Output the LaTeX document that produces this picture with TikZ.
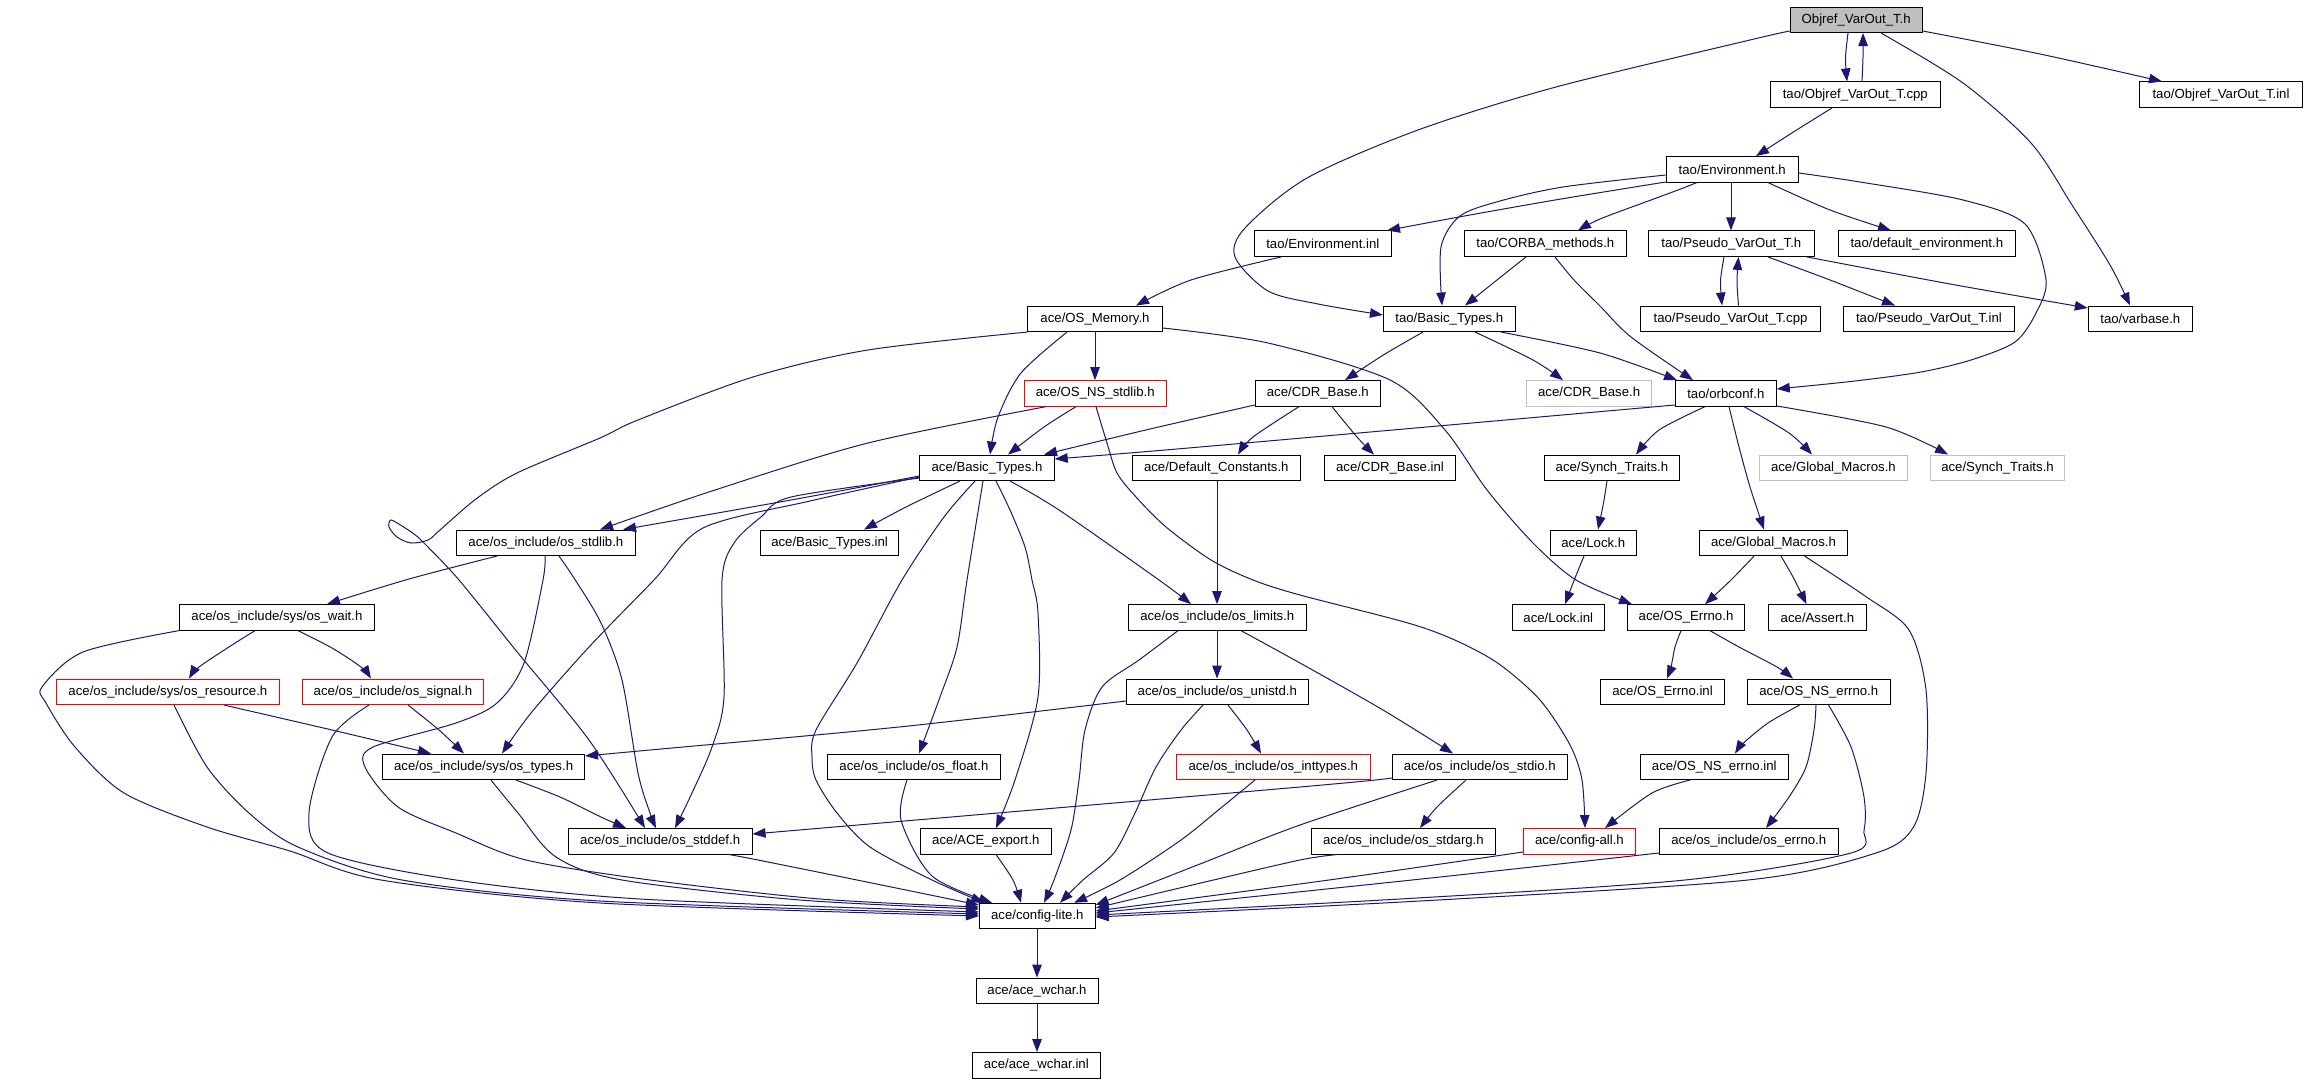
\documentclass[tikz,border=0pt]{standalone}
\usepackage{fontspec}
\setmainfont{Liberation Sans}
\usetikzlibrary{arrows.meta}
\definecolor{edgecol}{HTML}{191970}
\definecolor{grayc}{HTML}{BFBFBF}
\begin{document}
\begin{tikzpicture}[x=1pt,y=-1pt,
  nbox/.style={draw=black, fill=white, line width=1pt, minimum height=25.5pt, inner sep=0pt, font=\fontsize{13.2pt}{15pt}\selectfont},
  redbox/.style={nbox, draw=red},
  graybox/.style={nbox, draw=grayc},
  mainbox/.style={nbox, fill=grayc},
  conn/.style={draw=edgecol, line width=1pt, -{Triangle[length=13pt,width=9.5pt]}}
]
\fill[white] (0,0) rectangle (2307,1083);
\useasboundingbox (0,0) rectangle (2307,1083);

\node[mainbox, minimum width=132pt] (O) at (1856.2,19.8) {Objref\_VarOut\_T.h};
\node[nbox, minimum width=170pt] (ocpp) at (1855.3,94.7) {tao/Objref\_VarOut\_T.cpp};
\node[nbox, minimum width=163pt] (oinl) at (2221,94.7) {tao/Objref\_VarOut\_T.inl};
\node[nbox, minimum width=132pt] (env) at (1732.2,169.3) {tao/Environment.h};
\node[nbox, minimum width=136.6pt] (envinl) at (1322.8,243.7) {tao/Environment.inl};
\node[nbox, minimum width=162.2pt] (corba) at (1545.3,243.7) {tao/CORBA\_methods.h};
\node[nbox, minimum width=166.1pt] (pvh) at (1731.3,243.7) {tao/Pseudo\_VarOut\_T.h};
\node[nbox, minimum width=176.8pt] (defenv) at (1926.8,243.7) {tao/default\_environment.h};
\node[nbox, minimum width=134.3pt] (osmem) at (1095,318.8) {ace/OS\_Memory.h};
\node[nbox, minimum width=131.7pt] (tbt) at (1449.3,318.8) {tao/Basic\_Types.h};
\node[nbox, minimum width=179.8pt] (pvcpp) at (1730.5,318.8) {tao/Pseudo\_VarOut\_T.cpp};
\node[nbox, minimum width=171pt] (pvinl) at (1928.9,318.8) {tao/Pseudo\_VarOut\_T.inl};
\node[nbox, minimum width=104pt] (varbase) at (2140.3,318.8) {tao/varbase.h};
\node[redbox, minimum width=142.3pt] (nsstdlib) at (1095.2,393.4) {ace/OS\_NS\_stdlib.h};
\node[nbox, minimum width=125.2pt] (cdr) at (1317.8,393.4) {ace/CDR\_Base.h};
\node[graybox, minimum width=124.4pt] (cdrg) at (1589.1,393.4) {ace/CDR\_Base.h};
\node[nbox, minimum width=100.9pt] (orbconf) at (1725.8,393.4) {tao/orbconf.h};
\node[nbox, minimum width=134.3pt] (abt) at (987,467.8) {ace/Basic\_Types.h};
\node[nbox, minimum width=168.1pt] (defc) at (1216.3,467.8) {ace/Default\_Constants.h};
\node[nbox, minimum width=130.9pt] (cdrinl) at (1390,467.8) {ace/CDR\_Base.inl};
\node[nbox, minimum width=134.7pt] (synch) at (1611.9,467.8) {ace/Synch\_Traits.h};
\node[graybox, minimum width=148.3pt] (gmg) at (1833.4,467.8) {ace/Global\_Macros.h};
\node[graybox, minimum width=134.4pt] (synchg) at (1997.5,467.8) {ace/Synch\_Traits.h};
\node[nbox, minimum width=178.7pt] (stdlib) at (545.9,542.8) {ace/os\_include/os\_stdlib.h};
\node[nbox, minimum width=138.6pt] (abtinl) at (829.6,542.8) {ace/Basic\_Types.inl};
\node[nbox, minimum width=86pt] (lock) at (1593.3,542.8) {ace/Lock.h};
\node[nbox, minimum width=148pt] (gm) at (1773.5,542.8) {ace/Global\_Macros.h};
\node[nbox, minimum width=194.8pt] (wait) at (276.9,617.4) {ace/os\_include/sys/os\_wait.h};
\node[nbox, minimum width=177.8pt] (limits) at (1217.3,617.4) {ace/os\_include/os\_limits.h};
\node[nbox, minimum width=92.1pt] (lockinl) at (1558.3,617.4) {ace/Lock.inl};
\node[nbox, minimum width=116.9pt] (errno) at (1686,617.4) {ace/OS\_Errno.h};
\node[nbox, minimum width=98pt] (assert) at (1817.4,617.4) {ace/Assert.h};
\node[redbox, minimum width=223pt] (resource) at (167.9,691.8) {ace/os\_include/sys/os\_resource.h};
\node[redbox, minimum width=180.8pt] (signal) at (393,691.8) {ace/os\_include/os\_signal.h};
\node[nbox, minimum width=182pt] (unistd) at (1217.3,691.8) {ace/os\_include/os\_unistd.h};
\node[nbox, minimum width=124pt] (errnoinl) at (1662.5,691.8) {ace/OS\_Errno.inl};
\node[nbox, minimum width=143pt] (nserrno) at (1818.8,691.8) {ace/OS\_NS\_errno.h};
\node[nbox, minimum width=201.9pt] (types) at (483.6,766.8) {ace/os\_include/sys/os\_types.h};
\node[nbox, minimum width=172.9pt] (float) at (913.9,766.8) {ace/os\_include/os\_float.h};
\node[redbox, minimum width=193.6pt] (inttypes) at (1273.3,766.8) {ace/os\_include/os\_inttypes.h};
\node[nbox, minimum width=174.6pt] (stdio) at (1479.7,766.8) {ace/os\_include/os\_stdio.h};
\node[nbox, minimum width=148pt] (nserrnoinl) at (1714.3,766.8) {ace/OS\_NS\_errno.inl};
\node[nbox, minimum width=183.7pt] (stddef) at (660.2,841.3) {ace/os\_include/os\_stddef.h};
\node[nbox, minimum width=131pt] (export) at (985.8,841.3) {ace/ACE\_export.h};
\node[nbox, minimum width=183.6pt] (stdarg) at (1403.4,841.3) {ace/os\_include/os\_stdarg.h};
\node[redbox, minimum width=112pt] (cfgall) at (1579.4,841.3) {ace/config-all.h};
\node[nbox, minimum width=178.7pt] (oserrno) at (1748.8,841.3) {ace/os\_include/os\_errno.h};
\node[nbox, minimum width=115.7pt] (cfglite) at (1037.3,916) {ace/config-lite.h};
\node[nbox, minimum width=122pt] (wchar) at (1037,990.8) {ace/ace\_wchar.h};
\node[nbox, minimum width=127.7pt] (wcharinl) at (1036.3,1065.3) {ace/ace\_wchar.inl};

% top
\draw[conn] plot[smooth] coordinates {(O.south -| 1848,0) (1845.5,58) (ocpp.north -| 1847,0)};
\draw[conn] plot[smooth] coordinates {(ocpp.north -| 1862,0) (1863,57) (O.south -| 1863,0)};
\draw[conn] plot[smooth] coordinates {(O.east |- 0,31) (2040,54) (oinl.north -| 2162,0)};
\draw[conn] plot[smooth] coordinates {(O.west |- 0,31) (1750,40) (1556,87) (1418,130) (1307,178) (1245,228) (1235,257) (1268,291) (1318,304) (tbt.west |- 0,315)};
\draw[conn] plot[smooth] coordinates {(O.south -| 1881,0) (1963,83) (2031,143) (2072,205) (2110,265) (varbase.north -| 2130,0)};
\draw[conn] plot[smooth] coordinates {(ocpp.south -| 1832,0) (1795,131) (env.north -| 1756,0)};
% env
\draw[conn] plot[smooth] coordinates {(env.west |- 0,182) (1561,199) (1470,215) (envinl.north -| 1387,0)};
\draw[conn] plot[smooth] coordinates {(env.west |- 0,175) (1563,187) (1500,201) (1460,216) (1441,247) (tbt.north -| 1442,0)};
\draw[conn] plot[smooth] coordinates {(env.south -| 1697,0) (1678,190) (1651,200) (1600,219) (corba.north -| 1578,0)};
\draw[conn] (env.south -| 1731,0) -- (pvh.north -| 1731,0);
\draw[conn] plot[smooth] coordinates {(env.south -| 1768,0) (1830,210) (defenv.north -| 1891,0)};
\draw[conn] plot[smooth] coordinates {(env.east |- 0,173) (1860,182) (1963,200) (2025,224) (2046,280) (2036,313) (2015,342) (1971,360) (1921,372) (1855,381) (orbconf.east |- 0,389)};
% pvh
\draw[conn] plot[smooth] coordinates {(pvh.south -| 1724,0) (1720.5,281) (pvcpp.north -| 1722,0)};
\draw[conn] plot[smooth] coordinates {(pvcpp.north -| 1738.5,0) (1737,281) (pvh.south -| 1738.5,0)};
\draw[conn] plot[smooth] coordinates {(pvh.south -| 1768,0) (1830,280) (pvinl.north -| 1895,0)};
\draw[conn] plot[smooth] coordinates {(pvh.south -| 1807,0) (1950,284) (varbase.west |- 0,308)};
% corba
\draw[conn] plot[smooth] coordinates {(corba.south -| 1526,0) (1497,280) (tbt.north -| 1465,0)};
\draw[conn] plot[smooth] coordinates {(corba.south -| 1555,0) (1574,280) (1600,306) (1631,337) (orbconf.north -| 1693,0)};
% tbt
\draw[conn] plot[smooth] coordinates {(tbt.south -| 1501,0) (1600,353) (orbconf.north -| 1677,0)};
\draw[conn] plot[smooth] coordinates {(tbt.south -| 1423,0) (1385,354) (cdr.north -| 1345,0)};
\draw[conn] plot[smooth] coordinates {(tbt.south -| 1475,0) (1533,360) (cdrg.north -| 1563,0)};
% envinl
\draw[conn] plot[smooth] coordinates {(envinl.south -| 1281,0) (1191,280) (osmem.north -| 1136,0)};
% osmem
\draw[conn] (osmem.south -| 1095,0) -- (nsstdlib.north -| 1095,0);
\draw[conn] plot[smooth] coordinates {(osmem.south -| 1067,0) (1021,373) (998,417) (abt.north -| 990,0)};
\draw[conn] plot[smooth] coordinates {(osmem.east |- 0,328) (1268,343) (1390,380) (1445,430) (1487,490) (1533,543) (1576,580) (errno.north -| 1632,0)};
\draw[conn] plot[smooth] coordinates {(osmem.south west) (868,350) (753,377) (638,420) (600,438) (517,473) (476,499) (440,530) (428,540) (411,543) (397,537) (389,527) (391,520) (402,526) (414,534) (424,543) (459,580) (518,653) (589,740) (stddef.north -| 645,0)};
% nsstdlib
\draw[conn] plot[smooth] coordinates {(nsstdlib.south -| 1076,0) (1044,427) (abt.north -| 1008,0)};
\draw[conn] plot[smooth] coordinates {(nsstdlib.south -| 1046,0) (868,443) (715,490) (stdlib.north -| 600,0)};
\draw[conn] plot[smooth] coordinates {(nsstdlib.south -| 1096,0) (1107,443) (1117,473) (1136,497) (1166,527) (1211,560) (1253,580) (1300,595) (1408,623) (1457,641) (1499,664) (1540,700) (1570,745) (1582,780) (cfgall.north -| 1585,0)};
% orbconf
\draw[conn] plot[smooth] coordinates {(orbconf.west |- 0,405) (1200,447) (abt.east |- 0,459)};
\draw[conn] plot[smooth] coordinates {(orbconf.south -| 1705,0) (1659,430) (synch.north -| 1636,0)};
\draw[conn] plot[smooth] coordinates {(orbconf.south -| 1744,0) (1789,433) (gmg.north -| 1812,0)};
\draw[conn] plot[smooth] coordinates {(orbconf.east |- 0,406) (1886,427) (synchg.north -| 1948,0)};
\draw[conn] plot[smooth] coordinates {(orbconf.south -| 1729,0) (1739,447) (1750,487) (gm.north -| 1764,0)};
% cdr
\draw[conn] plot[smooth] coordinates {(cdr.west |- 0,405) (1150,429) (abt.north -| 1044,0)};
\draw[conn] plot[smooth] coordinates {(cdr.south -| 1299,0) (1253,437) (defc.north -| 1238,0)};
\draw[conn] plot[smooth] coordinates {(cdr.south -| 1332,0) (1357,437) (cdrinl.north -| 1374,0)};
\draw[conn] (defc.south -| 1217,0) -- (limits.north -| 1217,0);
% abt
\draw[conn] plot[smooth] coordinates {(abt.west |- 0,476) (791,500) (stdlib.north -| 623,0)};
\draw[conn] plot[smooth] coordinates {(abt.south -| 960,0) (906,507) (abtinl.north -| 864,0)};
\draw[conn] plot[smooth] coordinates {(abt.west |- 0,477) (810,501) (703,528) (654,580) (589,647) (531,713) (types.north -| 502,0)};
\draw[conn] plot[smooth] coordinates {(abt.west |- 0,478) (791,497) (761,517) (734,543) (722,580) (724,697) (712,747) (692,793) (stddef.north -| 675,0)};
\draw[conn] plot[smooth] coordinates {(abt.south -| 975,0) (944,517) (902,580) (857,663) (816,730) (812,757) (816,780) (837,813) (870,847) (932,880) (cfglite.north -| 984,0)};
\draw[conn] plot[smooth] coordinates {(abt.south -| 983,0) (967,580) (957,647) (940,697) (float.north -| 919,0)};
\draw[conn] plot[smooth] coordinates {(abt.south -| 996,0) (1010,510) (1025,547) (1032,580) (1038,613) (1038,697) (1015,780) (export.north -| 996,0)};
\draw[conn] plot[smooth] coordinates {(abt.south -| 1010,0) (1059,510) (1159,580) (limits.north -| 1191,0)};
% stdlib
\draw[conn] plot[smooth] coordinates {(stdlib.south -| 497,0) (409,579) (wait.north -| 327,0)};
\draw[conn] plot[smooth] coordinates {(stdlib.south -| 559,0) (574,578) (601,623) (622,680) (638,773) (650,813) (stddef.north -| 656,0)};
\draw[conn] plot[smooth] coordinates {(stdlib.south -| 545,0) (543,580) (524,663) (497,703) (456,723) (373,747) (365,767) (398,807) (456,833) (526,860) (650,880) (820,899) (cfglite.west |- 0,907)};
% wait
\draw[conn] plot[smooth] coordinates {(wait.south -| 255,0) (232,645) (199,667) (resource.north -| 189,0)};
\draw[conn] plot[smooth] coordinates {(wait.south -| 298,0) (332,648) (361,667) (signal.north -| 371,0)};
\draw[conn] plot[smooth] coordinates {(wait.south west) (83,652) (42,687) (46,703) (75,747) (124,793) (207,827) (290,851) (381,880) (600,903) (cfglite.west |- 0,916)};
% resource
\draw[conn] plot[smooth] coordinates {(resource.south -| 224,0) (332,730) (types.north -| 431,0)};
\draw[conn] plot[smooth] coordinates {(resource.south -| 174,0) (207,767) (249,813) (298,847) (402,880) (600,901) (cfglite.west |- 0,914)};
% signal
\draw[conn] plot[smooth] coordinates {(signal.south -| 408,0) (439,730) (types.north -| 464,0)};
\draw[conn] plot[smooth] coordinates {(signal.south -| 369,0) (332,737) (309,813) (328,853) (456,880) (640,899) (cfglite.west |- 0,912)};
% types
\draw[conn] plot[smooth] coordinates {(types.south -| 516,0) (560,797) (601,817) (stddef.north -| 626,0)};
\draw[conn] plot[smooth] coordinates {(types.south -| 491,0) (518,813) (556,857) (622,880) (800,900) (cfglite.west |- 0,909)};
% stddef
\draw[conn] plot[smooth] coordinates {(stddef.south -| 729,0) (758,860) (857,880) (cfglite.west |- 0,905)};
% limits
\draw[conn] (limits.south -| 1217,0) -- (unistd.north -| 1217,0);
\draw[conn] plot[smooth] coordinates {(limits.south -| 1241,0) (1300,663) (1383,710) (stdio.north -| 1453,0)};
\draw[conn] plot[smooth] coordinates {(limits.south -| 1178,0) (1139,660) (1102,687) (1085,730) (1079,780) (1071,830) (1054,880) (cfglite.north -| 1044,0)};
% unistd
\draw[conn] plot[smooth] coordinates {(unistd.west |- 0,701) (899,727) (650,750) (types.east |- 0,756)};
\draw[conn] plot[smooth] coordinates {(unistd.south -| 1228,0) (1247,730) (inttypes.north -| 1261,0)};
\draw[conn] plot[smooth] coordinates {(unistd.south -| 1203,0) (1181,730) (1156,767) (1135,813) (1114,853) (1083,880) (cfglite.north -| 1060,0)};
% inttypes
\draw[conn] plot[smooth] coordinates {(inttypes.south -| 1255,0) (1222,807) (1181,840) (1120,880) (cfglite.north -| 1074,0)};
% float, export
\draw[conn] plot[smooth] coordinates {(float.south -| 907,0) (901,820) (932,876) (cfglite.north -| 992,0)};
\draw[conn] plot[smooth] coordinates {(export.south -| 996,0) (1013,880) (cfglite.north -| 1021,0)};
% stdio
\draw[conn] plot[smooth] coordinates {(stdio.west |- 0,778) (1300,787) (stddef.east |- 0,834)};
\draw[conn] plot[smooth] coordinates {(stdio.south -| 1466,0) (1437,807) (stdarg.north -| 1420,0)};
\draw[conn] plot[smooth] coordinates {(stdio.south -| 1437,0) (1300,825) (1200,864) (cfglite.east |- 0,905)};
% stdarg
\draw[conn] plot[smooth] coordinates {(stdarg.south -| 1337,0) (1300,860) (1205,882) (cfglite.east |- 0,908)};
% cfgall
\draw[conn] plot[smooth] coordinates {(cfgall.west |- 0,852) (1329,880) (cfglite.east |- 0,911)};
% nserrnoinl
\draw[conn] plot[smooth] coordinates {(nserrnoinl.south -| 1690,0) (1652,793) (cfgall.north -| 1605,0)};
% nserrno
\draw[conn] plot[smooth] coordinates {(nserrno.south -| 1799.5,0) (1768,723) (1743.5,743) (nserrnoinl.north -| 1735,0)};
\draw[conn] plot[smooth] coordinates {(nserrno.south -| 1816,0) (1814,730) (1806,767) (1789,797) (oserrno.north -| 1766,0)};
\draw[conn] plot[smooth] coordinates {(nserrno.south -| 1828.5,0) (1851,747) (1864,797) (1864,830) (1851,853) (1685,880) (1400,899) (cfglite.east |- 0,915)};
% oserrno
\draw[conn] plot[smooth] coordinates {(oserrno.west |- 0,853) (1412,880) (cfglite.east |- 0,913)};
% errno
\draw[conn] plot[smooth] coordinates {(errno.south -| 1681,0) (1675,647) (1671,667) (errnoinl.north -| 1667,0)};
\draw[conn] plot[smooth] coordinates {(errno.south -| 1710,0) (1739,647) (1777,667) (nserrno.north -| 1793,0)};
% gm
\draw[conn] plot[smooth] coordinates {(gm.south -| 1754,0) (1731,580) (errno.north -| 1705,0)};
\draw[conn] plot[smooth] coordinates {(gm.south -| 1781,0) (1793,577) (assert.north -| 1806.5,0)};
\draw[conn] plot[smooth] coordinates {(gm.south -| 1804.5,0) (1866.5,597) (1909,630) (1926,690) (1926,773) (1913.5,827) (1876,853) (1748,880) (1420,901) (cfglite.east |- 0,917)};
% synch, lock
\draw[conn] plot[smooth] coordinates {(synch.south -| 1607,0) (1603.5,503) (lock.north -| 1598,0)};
\draw[conn] plot[smooth] coordinates {(lock.south -| 1584,0) (1575,578) (lockinl.north -| 1565,0)};
\draw[conn] (cfglite.south -| 1037,0) -- (wchar.north -| 1037,0);
\draw[conn] (wchar.south -| 1037,0) -- (wcharinl.north -| 1037,0);
\end{tikzpicture}
\end{document}
